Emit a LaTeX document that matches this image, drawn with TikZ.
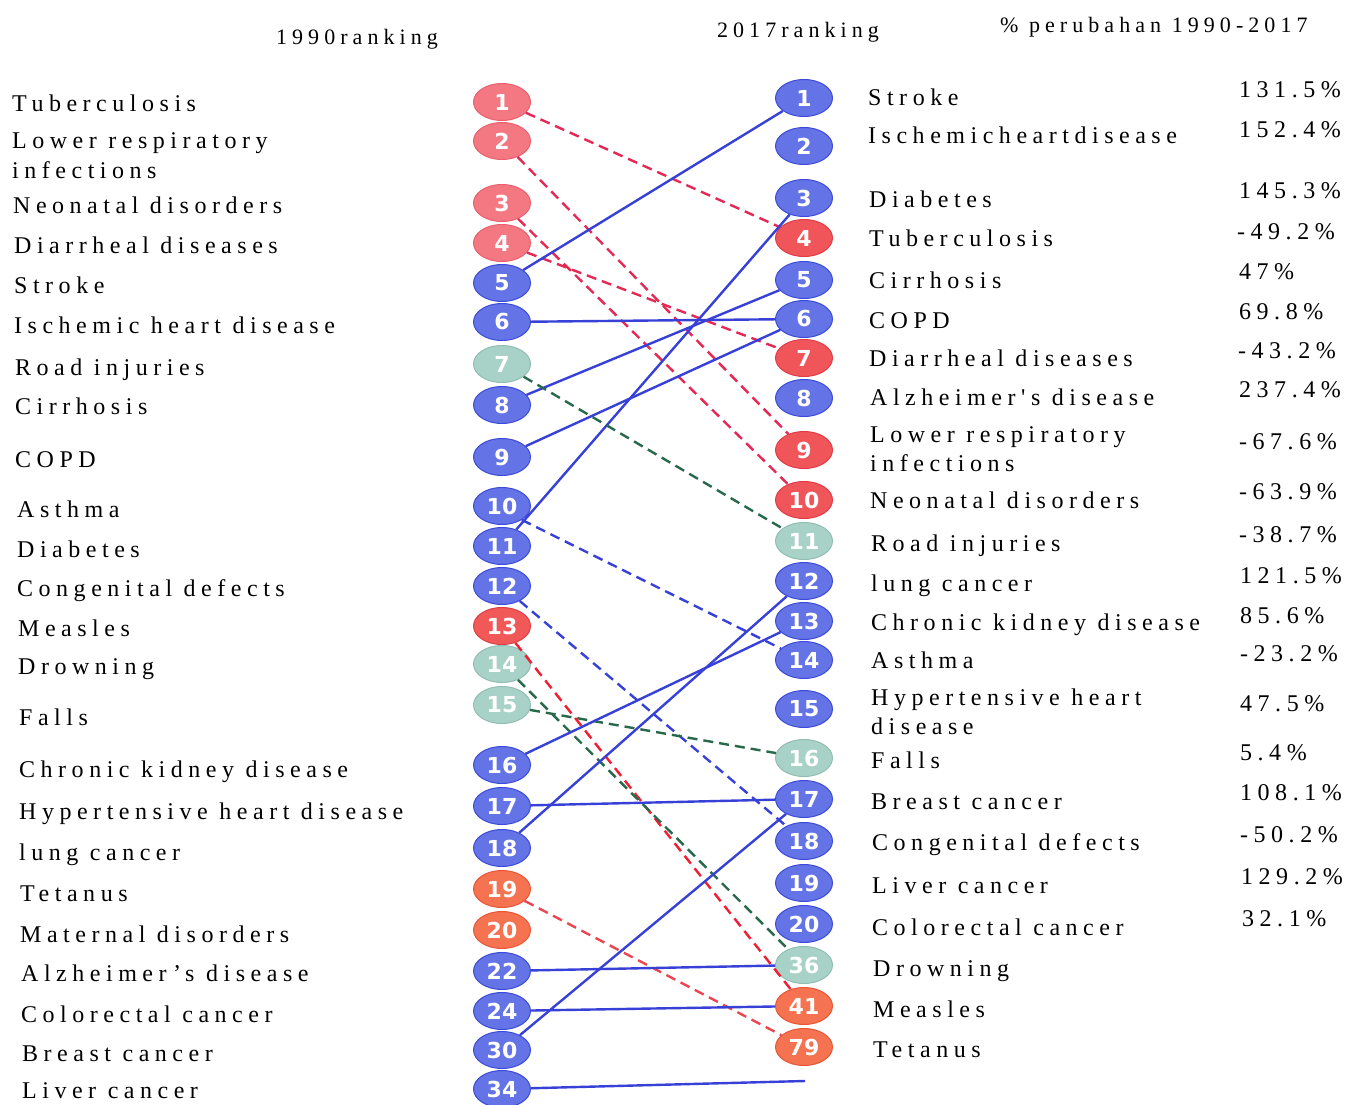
\documentclass[tikz,border=0pt]{standalone}
\usepackage{fontspec}
\setmainfont{Liberation Serif}
\newfontfamily\labfont[LetterSpace=23]{Liberation Serif}
\newfontfamily\numfont{DejaVu Sans}
\usetikzlibrary{shapes.geometric}
\definecolor{bfill}{RGB}{100,115,230}
\definecolor{bdraw}{RGB}{60,75,215}
\definecolor{pfill}{RGB}{244,120,130}
\definecolor{pdraw}{RGB}{235,95,110}
\definecolor{rfill}{RGB}{240,85,90}
\definecolor{rdraw}{RGB}{225,60,70}
\definecolor{ofill}{RGB}{245,115,80}
\definecolor{odraw}{RGB}{232,85,55}
\definecolor{tfill}{RGB}{168,210,200}
\definecolor{tdraw}{RGB}{145,190,178}
\definecolor{lblue}{RGB}{55,65,215}
\definecolor{lred}{RGB}{230,40,85}
\definecolor{lred2}{RGB}{240,30,50}
\definecolor{lora}{RGB}{235,70,80}
\definecolor{lgreen}{RGB}{40,105,75}
\tikzset{
  badge/.style={ellipse, minimum width=57pt, minimum height=37pt, inner sep=0pt,
    line width=1pt, text=white, font=\numfont\bfseries\fontsize{22}{22}\selectfont},
  bl/.style={badge, fill=bfill, draw=bdraw},
  pk/.style={badge, fill=pfill, draw=pdraw},
  rd/.style={badge, fill=rfill, draw=rdraw},
  og/.style={badge, fill=ofill, draw=odraw},
  tl/.style={badge, fill=tfill, draw=tdraw},
  lab/.style={anchor=base west, inner sep=0pt, font=\labfont\fontsize{24}{28}\selectfont},
  hdr/.style={anchor=base, inner sep=0pt, font=\labfont\fontsize{22}{26}\selectfont},
  sol/.style={line width=2.4pt, draw=lblue},
  dsh/.style={line width=2.4pt, dash pattern=on 10pt off 6pt},
}
\begin{document}
\begin{tikzpicture}[x=1pt,y=-1pt]
\fill[white] (0,0) rectangle (1357,1105);
\useasboundingbox (0,0) rectangle (1357,1105);

% headers
\node[hdr] (h1) at (357,45) {1990ranking};
\node[hdr] (h2) at (798,38) {2017ranking};
\node[hdr, anchor=base west] (h3) at (1000,33) {\% perubahan 1990-2017};

% left labels
\node[lab] (a1) at (12,112) {Tuberculosis};
\node[lab] (a2) at (12,149) {Lower respiratory};
\node[lab] (a2b) at (12,178) {infections};
\node[lab] (a3) at (13,213) {Neonatal disorders};
\node[lab] (a4) at (14,253) {Diarrheal diseases};
\node[lab] (a5) at (14,293) {Stroke};
\node[lab] (a6) at (14,333) {Ischemic heart disease};
\node[lab] (a7) at (15,375) {Road injuries};
\node[lab] (a8) at (15,414) {Cirrhosis};
\node[lab] (a9) at (15,467) {COPD};
\node[lab] (a10) at (17,517) {Asthma};
\node[lab] (a11) at (17,557) {Diabetes};
\node[lab] (a12) at (17,596) {Congenital defects};
\node[lab] (a13) at (18,636) {Measles};
\node[lab] (a14) at (18,674) {Drowning};
\node[lab] (a15) at (19,725) {Falls};
\node[lab] (a16) at (19,777) {Chronic kidney disease};
\node[lab] (a17) at (19,819) {Hypertensive heart disease};
\node[lab] (a18) at (19,860) {lung cancer};
\node[lab] (a19) at (20,901) {Tetanus};
\node[lab] (a20) at (20,942) {Maternal disorders};
\node[lab] (a22) at (21,981) {Alzheimer’s disease};
\node[lab] (a24) at (21,1022) {Colorectal cancer};
\node[lab] (a30) at (22,1061) {Breast cancer};
\node[lab] (a34) at (22,1098) {Liver cancer};

% right labels
\node[lab] (b1) at (868,106) {Stroke};
\node[lab] (b2) at (868,143) {Ischemicheartdisease};
\node[lab] (b3) at (869,207) {Diabetes};
\node[lab] (b4) at (869,246) {Tuberculosis};
\node[lab] (b5) at (869,288) {Cirrhosis};
\node[lab] (b6) at (869,328) {COPD};
\node[lab] (b7) at (869,366) {Diarrheal diseases};
\node[lab] (b8) at (870,405) {Alzheimer's disease};
\node[lab] (b9) at (870,442) {Lower respiratory};
\node[lab] (b9b) at (870,471) {infections};
\node[lab] (b10) at (870,508) {Neonatal disorders};
\node[lab] (b11) at (871,551) {Road injuries};
\node[lab] (b12) at (871,591) {lung cancer};
\node[lab] (b13) at (871,630) {Chronic kidney disease};
\node[lab] (b14) at (871,668) {Asthma};
\node[lab] (b15) at (871,705) {Hypertensive heart};
\node[lab] (b15b) at (871,734) {disease};
\node[lab] (b16) at (871,768) {Falls};
\node[lab] (b17) at (871,809) {Breast cancer};
\node[lab] (b18) at (872,850) {Congenital defects};
\node[lab] (b19) at (872,893) {Liver cancer};
\node[lab] (b20) at (872,935) {Colorectal cancer};
\node[lab] (b36) at (873,976) {Drowning};
\node[lab] (b41) at (873,1017) {Measles};
\node[lab] (b79) at (873,1057) {Tetanus};

% percentages
\node[lab] (p1) at (1239,98) {131.5\%};
\node[lab] (p2) at (1239,138) {152.4\%};
\node[lab] (p3) at (1239,198) {145.3\%};
\node[lab] (p4) at (1237,239) {-49.2\%};
\node[lab] (p5) at (1239,279) {47\%};
\node[lab] (p6) at (1239,319) {69.8\%};
\node[lab] (p7) at (1238,358) {-43.2\%};
\node[lab] (p8) at (1239,397) {237.4\%};
\node[lab] (p9) at (1239,449) {-67.6\%};
\node[lab] (p10) at (1239,499) {-63.9\%};
\node[lab] (p11) at (1239,542) {-38.7\%};
\node[lab] (p12) at (1240,583) {121.5\%};
\node[lab] (p13) at (1240,623) {85.6\%};
\node[lab] (p14) at (1240,661) {-23.2\%};
\node[lab] (p15) at (1240,711) {47.5\%};
\node[lab] (p16) at (1240,760) {5.4\%};
\node[lab] (p17) at (1240,800) {108.1\%};
\node[lab] (p18) at (1240,842) {-50.2\%};
\node[lab] (p19) at (1241,884) {129.2\%};
\node[lab] (p20) at (1242,926) {32.1\%};

% left badges
\node[pk] (L1) at (502,102) {1};
\node[pk] (L2) at (502,141) {2};
\node[pk] (L3) at (502,203) {3};
\node[pk] (L4) at (502,243) {4};
\node[bl] (L5) at (502,283) {5};
\node[bl] (L6) at (502,322) {6};
\node[tl] (L7) at (502,364) {7};
\node[bl] (L8) at (502,405) {8};
\node[bl] (L9) at (502,457) {9};
\node[bl] (L10) at (502,506) {10};
\node[bl] (L11) at (502,546) {11};
\node[bl] (L12) at (502,586) {12};
\node[badge, fill=rfill!85!ofill, draw=rdraw] (L13) at (502,626) {13};
\node[tl] (L14) at (502,664) {14};
\node[tl] (L15) at (502,705) {15};
\node[bl] (L16) at (502,765) {16};
\node[bl] (L17) at (502,806) {17};
\node[bl] (L18) at (502,848) {18};
\node[og] (L19) at (502,889) {19};
\node[og] (L20) at (502,930) {20};
\node[bl] (L22) at (502,971) {22};
\node[bl] (L24) at (502,1011) {24};
\node[bl] (L30) at (502,1050) {30};
\node[bl] (L34) at (502,1089) {34};

% right badges
\node[bl] (R1) at (804,98) {1};
\node[bl] (R2) at (804,146) {2};
\node[bl] (R3) at (804,198) {3};
\node[rd] (R4) at (804,238) {4};
\node[bl] (R5) at (804,280) {5};
\node[bl] (R6) at (804,319) {6};
\node[rd] (R7) at (804,358) {7};
\node[bl] (R8) at (804,398) {8};
\node[rd] (R9) at (804,450) {9};
\node[rd] (R10) at (804,500) {10};
\node[tl] (R11) at (804,541) {11};
\node[bl] (R12) at (804,581) {12};
\node[bl] (R13) at (804,621) {13};
\node[bl] (R14) at (804,660) {14};
\node[bl] (R15) at (804,709) {15};
\node[tl] (R16) at (804,758) {16};
\node[bl] (R17) at (804,799) {17};
\node[bl] (R18) at (804,841) {18};
\node[bl] (R19) at (804,883) {19};
\node[bl] (R20) at (804,924) {20};
\node[tl] (R36) at (804,965) {36};
\node[og] (R41) at (804,1006) {41};
\node[og] (R79) at (804,1047) {79};
\coordinate (E34) at (805,1081);

% connectors
\draw[dsh, lred] (L1) -- (R4);
\draw[dsh, lred] (L2) -- (R9);
\draw[dsh, lred] (L3) -- (R10);
\draw[dsh, lred] (L4) -- (R7);
\draw[sol] (L5) -- (R1);
\draw[sol] (L6) -- (R6);
\draw[sol] (L8) -- (R5);
\draw[sol] (L9) -- (R6);
\draw[sol] (L11) -- (R3);
\draw[dsh, lgreen] (L7) -- (R11);
\draw[dsh, lblue] (L10.-35) -- (R14);
\draw[dsh, lblue] (L12) -- (R18);
\draw[dsh, lred2] (L13) -- (R41);
\draw[dsh, lgreen] (L14) -- (R36);
\draw[dsh, lgreen] (L15) -- (R16);
\draw[sol] (L16) -- (R13);
\draw[sol] (L17) -- (R17);
\draw[sol] (L18) -- (R12);
\draw[dsh, lora] (L19) -- (R79);
\draw[sol] (L22) -- (R36);
\draw[sol] (L24) -- (R41);
\draw[sol] (L30) -- (R17);
\draw[sol] (L34) -- (E34);
\end{tikzpicture}
\end{document}
